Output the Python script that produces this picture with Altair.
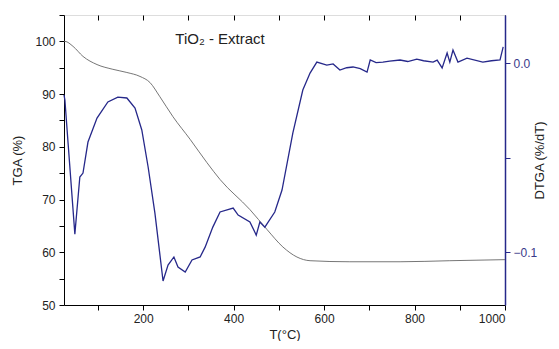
import altair as alt
import pandas as pd

# TGA curve (grey)
tga_T = [25, 27, 45, 67, 98, 133, 164, 193, 215, 237, 266, 304, 341, 370, 436, 474, 509, 540, 569, 657, 768, 878, 1000]
tga_v = [100, 100, 99.05, 97.15, 95.6, 94.7, 94.1, 93.35, 92.2, 89.5, 85.7, 81.4, 77.0, 73.8, 68.1, 64.3, 61.0, 59.1, 58.4, 58.2, 58.2, 58.4, 58.6]

# DTGA curve (blue)
dtga_T = [25, 27, 34, 49, 60, 67, 78, 98, 122, 144, 164, 182, 197, 211, 226, 244, 255, 268, 277, 293, 308, 326, 337, 354, 370, 399, 410, 436, 450, 458, 469, 491, 507, 531, 553, 569, 584, 606, 620, 635, 650, 664, 680, 695, 702, 715, 730, 745, 768, 785, 805, 820, 841, 850, 861, 872, 878, 885, 896, 916, 951, 970, 989, 996]
dtga_v = [-0.0169, -0.0196, -0.0423, -0.0905, -0.0603, -0.0582, -0.0418, -0.0291, -0.0206, -0.0180, -0.0185, -0.0238, -0.0354, -0.0550, -0.0794, -0.1153, -0.1069, -0.1026, -0.1079, -0.1106, -0.1042, -0.1026, -0.0974, -0.0868, -0.0788, -0.0767, -0.0804, -0.0841, -0.0910, -0.0841, -0.0868, -0.0788, -0.0672, -0.0370, -0.0143, -0.0053, 0.0005, -0.0011, -0.0005, -0.0037, -0.0025, -0.0021, -0.0030, -0.0048, 0.0016, 0.0002, 0.0005, 0.0010, 0.0016, 0.0008, 0.0021, 0.0012, 0.0005, 0.0015, -0.0026, 0.0053, 0.0005, 0.0069, 0.0005, 0.0026, 0.0005, 0.0012, 0.0016, 0.0085]

ann_T = [370]
ann_v = [100.4]
ann_text = ["TiO\u2082 - Extract"]

tga = pd.DataFrame({"T": tga_T, "TGA": tga_v})
dtga = pd.DataFrame({"T": dtga_T, "DTGA": dtga_v})
ann = pd.DataFrame({"T": ann_T, "TGA": ann_v, "label": ann_text})

FONT = "Liberation Sans"
BLUE = "#26288a"

xscale = alt.Scale(domain=[25, 1000], nice=False, zero=False)
yscale = alt.Scale(domain=[50, 105], nice=False, zero=False)
y2scale = alt.Scale(domain=[-0.128, 0.0254], nice=False, zero=False)

xaxis = alt.Axis(
    orient="bottom",
    values=list(range(100, 1001, 100)),
    format="d",
    labelExpr="datum.value % 200 == 0 ? datum.label : ''",
    grid=False, tickSize=5, labelPadding=3, title="T(°C)", titlePadding=4,
    domainColor="black", tickColor="black", labelColor="#222",
    labelFontSize=12, titleFontSize=13, titleFontWeight="normal",
    labelFont=FONT, titleFont=FONT, titleColor="#222",
)

yaxis = alt.Axis(
    orient="left",
    values=list(range(50, 106, 5)),
    labelExpr="datum.value % 10 == 0 ? datum.label : ''",
    grid=False, tickSize=5, labelPadding=4, title="TGA (%)", titlePadding=10,
    domainColor="black", tickColor="black", labelColor="#222",
    labelFontSize=12, titleFontSize=13, titleFontWeight="normal",
    labelFont=FONT, titleFont=FONT, titleColor="#222",
)

y2axis = alt.Axis(
    orient="right", values=[-0.1, -0.05, 0.0],
    labelExpr="datum.value == -0.05 ? '' : format(datum.value, '.1f')",
    grid=False, tickSize=5, labelPadding=3, title="DTGA (%/dT)", titlePadding=10,
    titleAngle=270,
    domainColor=BLUE, domainWidth=1.5, tickColor=BLUE, labelColor="#3a3a8a",
    labelFontSize=12, titleFontSize=13, titleFontWeight="normal",
    labelFont=FONT, titleFont=FONT, titleColor="#222",
)

tga_line = alt.Chart(tga).mark_line(color="#666666", strokeWidth=0.9, interpolate="monotone").encode(
    x=alt.X("T:Q", scale=xscale, axis=xaxis),
    y=alt.Y("TGA:Q", scale=yscale, axis=yaxis),
)

top_axis = alt.Chart(tga).mark_line(opacity=0).encode(
    x=alt.X("T:Q", scale=xscale, axis=alt.Axis(
        orient="top", values=list(range(100, 1001, 100)), labels=False, title=None,
        domain=False, tickSize=5, offset=-5, tickColor="black", grid=False)),
    y=alt.Y("TGA:Q", scale=yscale, axis=yaxis),
)

label = alt.Chart(ann).mark_text(font=FONT, fontSize=15, color="#222", align="center", baseline="middle").encode(
    x=alt.X("T:Q", scale=xscale, axis=None),
    y=alt.Y("TGA:Q", scale=yscale, axis=yaxis),
    text="label:N",
)

left = alt.layer(tga_line, top_axis, label).resolve_axis(x="independent")

dtga_line = alt.Chart(dtga).mark_line(color=BLUE, strokeWidth=1.3).encode(
    x=alt.X("T:Q", scale=xscale, axis=None),
    y=alt.Y("DTGA:Q", scale=y2scale, axis=y2axis),
)

chart = alt.layer(left, dtga_line).resolve_scale(y="independent").properties(
    width=441, height=290,
    autosize=alt.AutoSizeParams(type="none"),
    padding={"left": 56, "top": 7, "right": 46, "bottom": 36},
).configure_view(stroke="black", strokeWidth=1).configure(background="white")

chart.save("out.html", embed_options={"renderer": "svg", "actions": False})
